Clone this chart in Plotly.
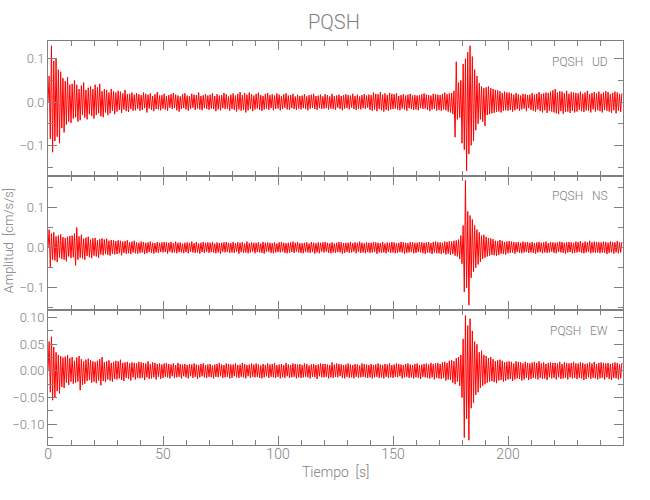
import numpy as np
import plotly.graph_objects as go
from plotly.subplots import make_subplots

station = "PQSH"
components = ["UD", "NS", "EW"]
dt = 0.5          # sampling interval [s]
unit = 1e-3       # values below are in 1e-3 cm/s/s

ud = [
    0, 60, -85, 130, -116, 95, -90, 100, -80, 75, -95, 70, -60, 55, -70, 48, -52, 58, -45, 40,
    -48, 42, -38, 50, -35, 40, -45, 30, -42, 38, -30, 45, -36, 28, -40, 33, -28, 36, -32, 30,
    -38, 40, -30, 34, -26, 42, -33, 25, -35, 30, -24, 28, -30, 22, -26, 30, -20, 25, -28, 22,
    -22, 26, -18, 24, -25, 20, -17, 28, -21, 18, -23, 19, -16, 22, -20, 17, -19, 21, -15, 18,
    -20, 16, -18, 22, -14, 19, -24, 17, -15, 20, -18, 14, -21, 18, -16, 23, -17, 15, -19, 16,
    -15, 19, -17, 14, -20, 16, -13, 18, -16, 21, -14, 17, -19, 15, -22, 13, -16, 18, -14, 20,
    -17, 15, -20, 14, -16, 19, -13, 17, -18, 16, -15, 22, -17, 14, -19, 16, -14, 18, -16, 15,
    -18, 17, -15, 20, -16, 14, -21, 18, -17, 15, -19, 16, -14, 21, -16, 18, -15, 13, -20, 17,
    -16, 20, -18, 15, -22, 19, -17, 23, -20, 16, -18, 21, -24, 17, -19, 22, -16, 18, -21, 15,
    -17, 19, -15, 22, -18, 16, -20, 14, -17, 19, -15, 21, -18, 16, -14, 18, -19, 15, -16, 20,
    -15, 17, -19, 14, -16, 18, -13, 20, -17, 15, -18, 16, -14, 19, -16, 13, -18, 17, -15, 14,
    -17, 15, -14, 18, -16, 13, -19, 16, -15, 17, -13, 19, -16, 14, -18, 15, -14, 17, -16, 13,
    -15, 18, -14, 16, -17, 13, -15, 19, -16, 14, -18, 15, -13, 17, -16, 14, -19, 16, -15, 18,
    -14, 16, -17, 15, -13, 19, -16, 14, -18, 17, -15, 13, -17, 16, -14, 18, -16, 15, -13, 17,
    -18, 16, -20, 22, -17, 19, -21, 18, -16, 23, -19, 17, -22, 20, -18, 16, -20, 21, -17, 19,
    -16, 18, -15, 20, -17, 14, -19, 16, -15, 18, -17, 15, -20, 17, -14, 19, -16, 15, -18, 16,
    -17, 15, -19, 16, -14, 18, -16, 20, -15, 17, -18, 16, -21, 15, -17, 19, -16, 18, -20, 17,
    -18, 16, -20, 19, -17, 22, -19, 18, -22, 20, -24, 21, -28, 26, -81, 93, -40, 45, -36, 50,
    -95, 88, -110, 100, -159, 115, -120, 130, -100, 105, -90, 75, -65, 60, -50, 44, -40, 36, -45, 32,
    -55, 34, -30, 36, -28, 32, -26, 30, -25, 28, -23, 27, -22, 25, -24, 21, -20, 24, -19, 22,
    -20, 22, -18, 20, -22, 17, -19, 21, -16, 18, -20, 15, -17, 19, -15, 18, -21, 16, -14, 17,
    -18, 21, -20, 17, -22, 19, -17, 23, -21, 18, -24, 20, -19, 22, -25, 21, -20, 24, -22, 27,
    -24, 30, -26, 22, -28, 25, -21, 24, -27, 20, -23, 26, -22, 19, -25, 23, -20, 22, -24, 21,
    -22, 20, -18, 24, -21, 19, -23, 22, -19, 26, -20, 18, -24, 21, -17, 23, -22, 20, -19, 24,
    -21, 19, -24, 22, -18, 25, -20, 23, -22, 18, -25, 21, -19, 24, -26, 22, -20, 19, -23, 20,
]

ns = [
    0, 45, -48, 35, -30, 38, -32, 28, -36, 30, -25, 33, -28, 26, -30, 24, -34, 27, -22, 29,
    -26, 30, -24, 35, -44, 50, -30, 28, -25, 32, -27, 22, -30, 25, -21, 27, -24, 20, -26, 23,
    -20, 24, -22, 18, -25, 21, -17, 23, -19, 20, -16, 22, -18, 17, -20, 19, -15, 18, -17, 16,
    -16, 18, -14, 17, -19, 15, -13, 16, -15, 18, -14, 13, -16, 15, -12, 17, -14, 13, -15, 12,
    -13, 15, -12, 14, -16, 12, -14, 13, -11, 15, -13, 12, -15, 11, -12, 14, -13, 12, -11, 13,
    -12, 14, -11, 13, -15, 12, -10, 14, -13, 11, -12, 15, -14, 12, -11, 13, -12, 10, -14, 12,
    -11, 13, -14, 12, -10, 15, -12, 11, -13, 14, -12, 10, -15, 12, -11, 14, -13, 12, -10, 13,
    -13, 12, -11, 14, -12, 10, -14, 13, -12, 11, -15, 12, -10, 13, -12, 14, -11, 12, -13, 11,
    -12, 14, -13, 11, -10, 13, -15, 12, -11, 14, -13, 10, -12, 15, -14, 11, -12, 13, -10, 12,
    -14, 12, -11, 13, -12, 10, -13, 14, -15, 12, -11, 13, -10, 12, -13, 11, -14, 13, -12, 10,
    -11, 13, -12, 14, -10, 12, -13, 11, -14, 12, -12, 13, -11, 15, -13, 12, -10, 14, -12, 11,
    -13, 11, -14, 12, -11, 13, -12, 10, -13, 14, -11, 12, -15, 11, -12, 13, -14, 12, -10, 13,
    -12, 14, -10, 12, -13, 11, -14, 13, -12, 10, -13, 12, -11, 14, -12, 13, -15, 11, -13, 12,
    -11, 12, -13, 14, -12, 11, -10, 13, -14, 12, -11, 15, -13, 12, -12, 11, -14, 13, -11, 12,
    -13, 12, -12, 14, -11, 13, -15, 12, -12, 11, -13, 14, -12, 10, -14, 13, -11, 12, -13, 14,
    -12, 13, -14, 11, -13, 12, -11, 14, -12, 13, -15, 12, -13, 11, -12, 14, -11, 13, -14, 12,
    -13, 12, -11, 14, -12, 13, -14, 12, -15, 13, -12, 14, -13, 11, -16, 14, -12, 15, -14, 13,
    -14, 13, -16, 12, -13, 15, -17, 14, -15, 16, -18, 15, -16, 17, -20, 18, -22, 20, -28, 30,
    -40, 55, -110, 167, -100, 90, -143, 80, -75, 70, -60, 55, -50, 45, -42, 38, -35, 30, -28, 32,
    -25, 27, -22, 24, -20, 23, -18, 21, -19, 17, -20, 16, -18, 19, -15, 17, -16, 14, -17, 15,
    -14, 16, -13, 15, -12, 14, -15, 13, -11, 14, -13, 12, -14, 15, -12, 13, -11, 14, -13, 12,
    -12, 14, -13, 11, -15, 13, -12, 14, -11, 12, -14, 13, -12, 15, -13, 11, -12, 14, -10, 13,
    -13, 12, -14, 13, -11, 15, -12, 14, -13, 12, -15, 13, -12, 14, -11, 13, -14, 12, -13, 15,
    -12, 14, -11, 16, -13, 12, -14, 15, -12, 13, -11, 17, -14, 13, -12, 15, -13, 14, -12, 13,
    -14, 13, -12, 15, -13, 14, -16, 12, -13, 15, -12, 14, -15, 13, -12, 16, -14, 13, -12, 14,
]

ew = [
    0, 55, -40, 64, -55, 45, -50, 35, -38, 30, -42, 28, -30, 25, -32, 27, -22, 30, -26, 24,
    -20, 26, -24, 19, -22, 25, -20, 28, -36, 22, -26, 18, -24, 21, -19, 23, -17, 20, -22, 18,
    -20, 17, -23, 19, -18, 22, -27, 26, -19, 16, -21, 18, -16, 20, -18, 15, -20, 17, -15, 19,
    -16, 18, -14, 21, -17, 15, -19, 16, -13, 17, -15, 14, -18, 16, -12, 15, -16, 14, -13, 17,
    -14, 16, -13, 15, -17, 14, -12, 18, -15, 13, -14, 16, -12, 15, -16, 13, -11, 14, -15, 12,
    -13, 14, -11, 15, -12, 13, -14, 12, -10, 14, -13, 11, -12, 15, -11, 13, -14, 12, -10, 13,
    -12, 11, -14, 13, -10, 12, -13, 14, -11, 12, -15, 11, -12, 13, -10, 14, -12, 11, -13, 12,
    -11, 13, -12, 10, -14, 12, -11, 13, -12, 15, -10, 12, -13, 11, -12, 14, -11, 13, -14, 12,
    -13, 12, -10, 14, -12, 11, -13, 12, -11, 15, -12, 13, -14, 11, -10, 12, -13, 14, -11, 12,
    -12, 14, -11, 12, -13, 10, -14, 13, -12, 11, -10, 14, -13, 12, -11, 13, -12, 15, -13, 11,
    -11, 12, -14, 13, -12, 11, -13, 15, -10, 12, -13, 11, -12, 14, -11, 13, -14, 12, -12, 13,
    -13, 11, -12, 14, -11, 13, -12, 10, -14, 12, -11, 13, -12, 11, -15, 12, -10, 14, -12, 13,
    -12, 13, -11, 12, -14, 11, -12, 16, -13, 12, -11, 14, -12, 13, -10, 12, -13, 11, -14, 12,
    -11, 14, -13, 12, -12, 11, -14, 13, -11, 12, -13, 10, -12, 14, -11, 13, -12, 12, -13, 11,
    -12, 13, -14, 11, -12, 12, -11, 14, -13, 12, -12, 11, -14, 13, -11, 12, -13, 14, -12, 11,
    -13, 12, -11, 14, -12, 13, -10, 12, -14, 11, -12, 13, -11, 14, -13, 12, -12, 11, -14, 13,
    -12, 14, -13, 11, -15, 12, -11, 13, -12, 14, -13, 12, -14, 15, -12, 13, -16, 14, -13, 15,
    -14, 13, -15, 16, -13, 17, -18, 15, -16, 19, -17, 20, -22, 18, -25, 24, -20, 26, -28, 30,
    -50, 60, -125, 104, -90, 85, -130, 98, -70, 75, -60, 55, -45, 50, -40, 35, -32, 38, -28, 30,
    -25, 28, -22, 24, -20, 26, -19, 22, -21, 18, -23, 20, -18, 21, -17, 19, -20, 16, -18, 17,
    -16, 18, -15, 17, -19, 14, -16, 18, -14, 17, -15, 16, -18, 14, -16, 17, -13, 15, -17, 14,
    -15, 16, -13, 17, -14, 15, -16, 18, -13, 14, -15, 16, -14, 13, -17, 15, -12, 16, -14, 15,
    -13, 15, -16, 14, -12, 17, -15, 13, -14, 16, -13, 15, -16, 14, -12, 15, -14, 17, -13, 14,
    -15, 14, -13, 16, -14, 15, -17, 13, -15, 14, -12, 16, -15, 14, -13, 17, -14, 13, -16, 15,
    -14, 16, -13, 15, -16, 14, -12, 15, -15, 13, -17, 14, -13, 16, -14, 15, -16, 13, -14, 15,
]

series = [ud, ns, ew]
y_ranges = [[-0.170, 0.141], [-0.156, 0.179], [-0.139, 0.1137]]
y_dticks = [0.1, 0.1, 0.05]
y_minor = [0.05, 0.05, 0.025]
y_formats = [".1f", ".1f", ".2f"]
x_range = [0, 250]
x_ticks = [0, 50, 100, 150, 200]

gray = "#808080"
font_family = "Roboto, Liberation Sans Narrow, Liberation Sans, sans-serif"

fig = make_subplots(rows=3, cols=1, shared_xaxes=True, vertical_spacing=0)

for i, vals in enumerate(series):
    arr = np.asarray(vals, dtype=float) * unit
    t = np.arange(len(arr)) * dt
    fig.add_trace(
        go.Scatter(x=t, y=arr, mode="lines", line=dict(color="#ff0000", width=1),
                   showlegend=False, hoverinfo="skip"),
        row=i + 1, col=1,
    )
    fig.update_yaxes(
        range=y_ranges[i], dtick=y_dticks[i], tick0=0, tickformat=y_formats[i],
        ticks="inside", ticklen=9, tickcolor=gray, tickwidth=1,
        minor=dict(dtick=y_minor[i], tick0=0, ticks="inside", ticklen=5, tickcolor=gray),
        showline=True, linecolor=gray, linewidth=1, mirror="allticks",
        showgrid=False, zeroline=False, automargin=False,
        tickfont=dict(family=font_family, size=13, color=gray, weight=300),
        row=i + 1, col=1,
    )
    fig.update_xaxes(
        range=x_range, tickvals=x_ticks, ticks="inside", ticklen=9, tickcolor=gray,
        minor=dict(dtick=10, tick0=0, ticks="inside", ticklen=5, tickcolor=gray),
        showline=True, linecolor=gray, linewidth=1, mirror="allticks",
        showgrid=False, zeroline=False, showticklabels=(i == 2), automargin=False,
        ticklabelstandoff=-4,
        tickfont=dict(family=font_family, size=14, color=gray, weight=300),
        row=i + 1, col=1,
    )

label_y = [0.948, 0.616, 0.282]
annotations = []
for comp, yy in zip(components, label_y):
    annotations.append(dict(text=f"{station}&nbsp;&nbsp;&nbsp;{comp}", xref="paper", yref="paper",
                            x=0.978, y=yy, xanchor="right", yanchor="middle", showarrow=False,
                            font=dict(family=font_family, size=12, color=gray, weight=300)))
annotations.append(dict(text=station, xref="paper", yref="paper", x=0.498, y=1.047,
                        xanchor="center", yanchor="middle", showarrow=False,
                        font=dict(family=font_family, size=20, color=gray, weight=300)))
annotations.append(dict(text="Amplitud&nbsp;&nbsp;[cm/s/s]", xref="paper", yref="paper",
                        x=-0.069, y=0.507, xanchor="center", yanchor="middle", textangle=-90,
                        showarrow=False, font=dict(family=font_family, size=13, color=gray, weight=300)))
annotations.append(dict(text="Tiempo&nbsp;&nbsp;[s]", xref="paper", yref="paper",
                        x=0.5, y=-0.067, xanchor="center", yanchor="middle",
                        showarrow=False, font=dict(family=font_family, size=14, color=gray, weight=300)))

fig.update_layout(
    width=650, height=500,
    margin=dict(l=48, r=27, t=41, b=55),
    paper_bgcolor="white", plot_bgcolor="white",
    annotations=annotations,
)

# remove the default page margin so the figure sits at the window's top-left corner
fig.write_html("out.html", config={"displayModeBar": False},
               post_script="document.body.style.margin='0';")
